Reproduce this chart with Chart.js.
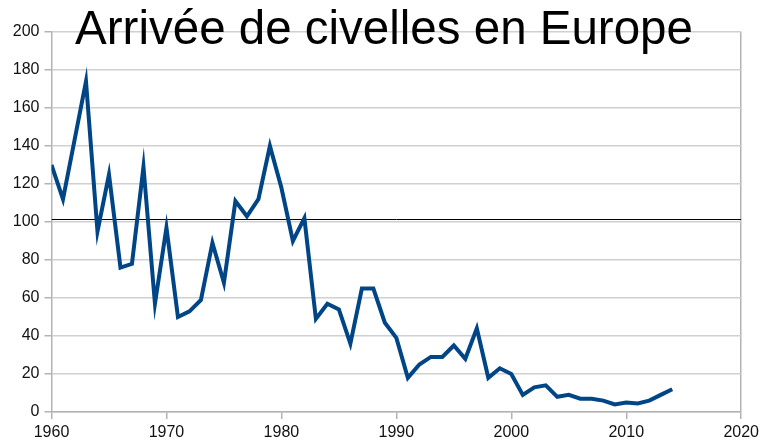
<!DOCTYPE html>
<html lang="fr">
<head>
<meta charset="UTF-8">
<title>Arrivée de civelles en Europe</title>
<script src="https://cdn.jsdelivr.net/npm/chart.js"></script>
<style>
  html, body { margin: 0; padding: 0; background: #fff; }
  #wrap { position: relative; width: 763px; height: 443px; }
</style>
</head>
<body>
<div id="wrap">
  <canvas id="eelChart" width="763" height="443"></canvas>
</div>
<script>
// Données
var chartTitle = 'Arrivée de civelles en Europe';
var years = [1960, 1961, 1962, 1963, 1964, 1965, 1966, 1967, 1968, 1969,
             1970, 1971, 1972, 1973, 1974, 1975, 1976, 1977, 1978, 1979,
             1980, 1981, 1982, 1983, 1984, 1985, 1986, 1987, 1988, 1989,
             1990, 1991, 1992, 1993, 1994, 1995, 1996, 1997, 1998, 1999,
             2000, 2001, 2002, 2003, 2004, 2005, 2006, 2007, 2008, 2009,
             2010, 2011, 2012, 2013, 2014];
var arrivals = [130, 112, 143, 174, 95, 125, 76, 78, 129, 57,
                97, 50, 53, 59, 89, 68, 111, 103, 112, 140,
                118, 90, 102, 49, 57, 54, 36, 65, 65, 47,
                39, 18, 25, 29, 29, 35, 28, 44, 18, 23,
                20, 9, 13, 14, 8, 9, 7, 7, 6, 4,
                5, 4.5, 6, 9, 12];
var referenceLevel = 101.3;
var xRange = [1960, 2020];
var yRange = [0, 200];

var points = years.map(function (y, i) { return { x: y, y: arrivals[i] }; });
var refPoints = xRange.map(function (x) { return { x: x, y: referenceLevel }; });

var titlePlugin = {
    id: 'bigTitle',
    afterDraw: function (chart) {
        var c = chart.ctx;
        c.save();
        c.font = '47.5px "Liberation Sans", Arial, sans-serif';
        c.fillStyle = '#000';
        c.textAlign = 'center';
        c.textBaseline = 'alphabetic';
        c.fillText(chartTitle, 384, 44);
        c.restore();
    }
};

var tickFont = { family: '"Liberation Sans", Arial, sans-serif', size: 16 };

var ctx = document.getElementById('eelChart').getContext('2d');
var eelChart = new Chart(ctx, {
    type: 'line',
    data: {
        datasets: [{
            data: points,
            borderColor: '#004586',
            borderWidth: 4,
            pointRadius: 0,
            tension: 0,
            fill: false
        }, {
            data: refPoints,
            borderColor: '#000',
            borderWidth: 1,
            pointRadius: 0,
            fill: false
        }]
    },
    plugins: [titlePlugin],
    options: {
        responsive: false,
        animation: false,
        layout: { padding: { top: 32, right: 19, left: 0, bottom: 0 } },
        plugins: {
            legend: { display: false },
            tooltip: { enabled: false },
            title: { display: false }
        },
        scales: {
            x: {
                type: 'linear',
                min: xRange[0],
                max: xRange[1],
                afterFit: function (s) { s.height = 31; },
                ticks: {
                    stepSize: 10,
                    color: '#111',
                    padding: 4,
                    maxRotation: 0,
                    font: tickFont,
                    callback: function (v) { return String(v); }
                },
                grid: {
                    drawOnChartArea: true,
                    color: function (c) { return c.tick && c.tick.value === 2020 ? '#b3b3b3' : 'rgba(0,0,0,0)'; },
                    tickColor: '#b3b3b3',
                    tickLength: 7,
                    lineWidth: 1.5
                },
                border: { color: '#b3b3b3', width: 1.5 }
            },
            y: {
                min: yRange[0],
                max: yRange[1],
                afterFit: function (s) { s.width = 51.5; },
                ticks: {
                    stepSize: 20,
                    color: '#111',
                    padding: 5,
                    font: tickFont
                },
                grid: {
                    color: '#d0d0d0',
                    lineWidth: 1.5,
                    tickLength: 7,
                    tickColor: '#b3b3b3'
                },
                border: { color: '#b3b3b3', width: 1.5 }
            }
        }
    }
});
</script>
</body>
</html>
